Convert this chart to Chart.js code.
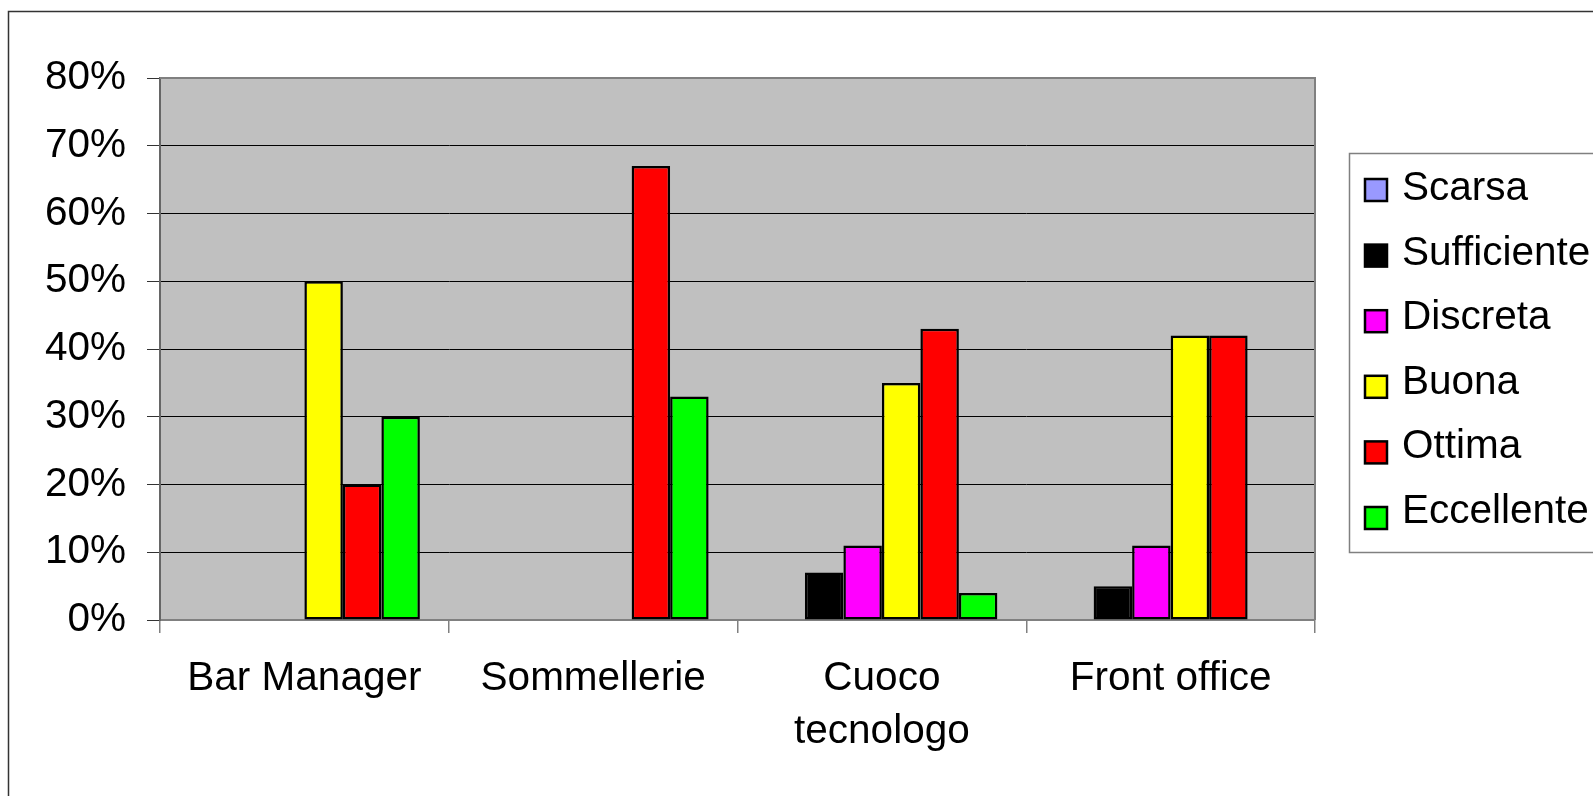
<!DOCTYPE html>
<html>
<head>
<meta charset="utf-8">
<script src="https://cdn.jsdelivr.net/npm/chart.js@4"></script>
<style>
  html, body { margin: 0; padding: 0; background: #fff; overflow: hidden; }
  #wrap { position: relative; width: 1593px; height: 796px; }
</style>
</head>
<body>
<div id="wrap"><canvas id="chart"></canvas></div>
<script>
// dati
const categories = ['Bar Manager', 'Sommellerie', ['Cuoco', 'tecnologo'], 'Front office'];
const scarsa      = [0, 0, 0, 0];
const sufficiente = [0, 0, 7, 5];
const discreta    = [0, 0, 11, 11];
const buona       = [50, 0, 35, 42];
const ottima      = [20, 67, 43, 42];
const eccellente  = [30, 33, 4, 0];
const yTicks = [0, 10, 20, 30, 40, 50, 60, 70, 80];

const series = [
    { name: 'Scarsa', data: scarsa, color: '#9999FF' },
    { name: 'Sufficiente', data: sufficiente, color: '#000000' },
    { name: 'Discreta', data: discreta, color: '#FF00FF' },
    { name: 'Buona', data: buona, color: '#FFFF00' },
    { name: 'Ottima', data: ottima, color: '#FF0000' },
    { name: 'Eccellente', data: eccellente, color: '#00FF00' },
];

const FONT = '"Liberation Sans", Arial, sans-serif';
Chart.defaults.font.family = FONT;
Chart.defaults.font.size = 40.5;
Chart.defaults.color = '#000';

// sfondo grigio, bordo esterno, bordo area e legenda
const excelLook = {
    id: 'excelLook',
    beforeDraw(chart) {
        const { ctx, chartArea: a } = chart;
        ctx.save();
        ctx.fillStyle = '#fff';
        ctx.fillRect(0, 0, chart.width, chart.height);
        ctx.strokeStyle = '#333';
        ctx.lineWidth = 1.5;
        ctx.strokeRect(8.5, 11.5, 2000, 2000);
        ctx.fillStyle = '#C0C0C0';
        ctx.fillRect(a.left, a.top, a.right - a.left, a.bottom - a.top);
        ctx.restore();
    },
    beforeDatasetsDraw(chart) {
        const { ctx, chartArea: a } = chart;
        ctx.save();
        ctx.strokeStyle = '#808080';
        ctx.lineWidth = 2;
        ctx.beginPath();
        ctx.moveTo(a.left, a.top);
        ctx.lineTo(a.right, a.top);
        ctx.lineTo(a.right, a.bottom);
        ctx.stroke();
        ctx.restore();
    },
    afterDraw(chart) {
        const ctx = chart.ctx;
        ctx.save();
        ctx.strokeStyle = '#808080';
        ctx.lineWidth = 1.5;
        ctx.strokeRect(1349.5, 153.5, 400, 399);
        ctx.font = '40.5px ' + FONT;
        ctx.textBaseline = 'alphabetic';
        chart.data.datasets.forEach((ds, i) => {
            const cy = 190 + i * 65.6;
            ctx.fillStyle = ds.backgroundColor;
            ctx.fillRect(1365, cy - 11, 22, 22);
            ctx.strokeStyle = '#000';
            ctx.lineWidth = 2.5;
            ctx.strokeRect(1365, cy - 11, 22, 22);
            ctx.fillStyle = '#000';
            ctx.fillText(ds.label, 1402, 200 + i * 64.6);
        });
        ctx.restore();
    }
};

new Chart(document.getElementById('chart'), {
    type: 'bar',
    data: {
        labels: categories,
        datasets: series.map(s => ({
            label: s.name,
            data: s.data,
            backgroundColor: s.color,
            borderColor: '#000',
            borderWidth: c => (c.raw ? 2.5 : 0),
            borderSkipped: false,
            categoryPercentage: 0.8,
            barPercentage: 1.0
        }))
    },
    options: {
        responsive: true,
        maintainAspectRatio: false,
        animation: false,
        layout: { padding: { top: 78, right: 278, left: 0, bottom: 0 } },
        plugins: { legend: { display: false }, tooltip: { enabled: false } },
        scales: {
            x: {
                afterFit: s => { s.height = 176; },
                grid: { drawOnChartArea: false, drawTicks: true, tickLength: 13, color: '#808080', lineWidth: 1.5 },
                border: { color: '#808080', width: 2 },
                ticks: { padding: 19, maxRotation: 0, autoSkip: false, font: { size: 40.5, lineHeight: 1.31 } }
            },
            y: {
                min: 0,
                max: 80,
                afterFit: s => { s.width = 160; },
                afterBuildTicks: s => { s.ticks = yTicks.map(v => ({ value: v })); },
                grid: { color: '#000', lineWidth: 1, tickLength: 13, tickColor: '#333' },
                border: { color: '#666', width: 2 },
                ticks: { padding: 21, callback: v => v + '%' }
            }
        }
    },
    plugins: [excelLook]
});
</script>
</body>
</html>
